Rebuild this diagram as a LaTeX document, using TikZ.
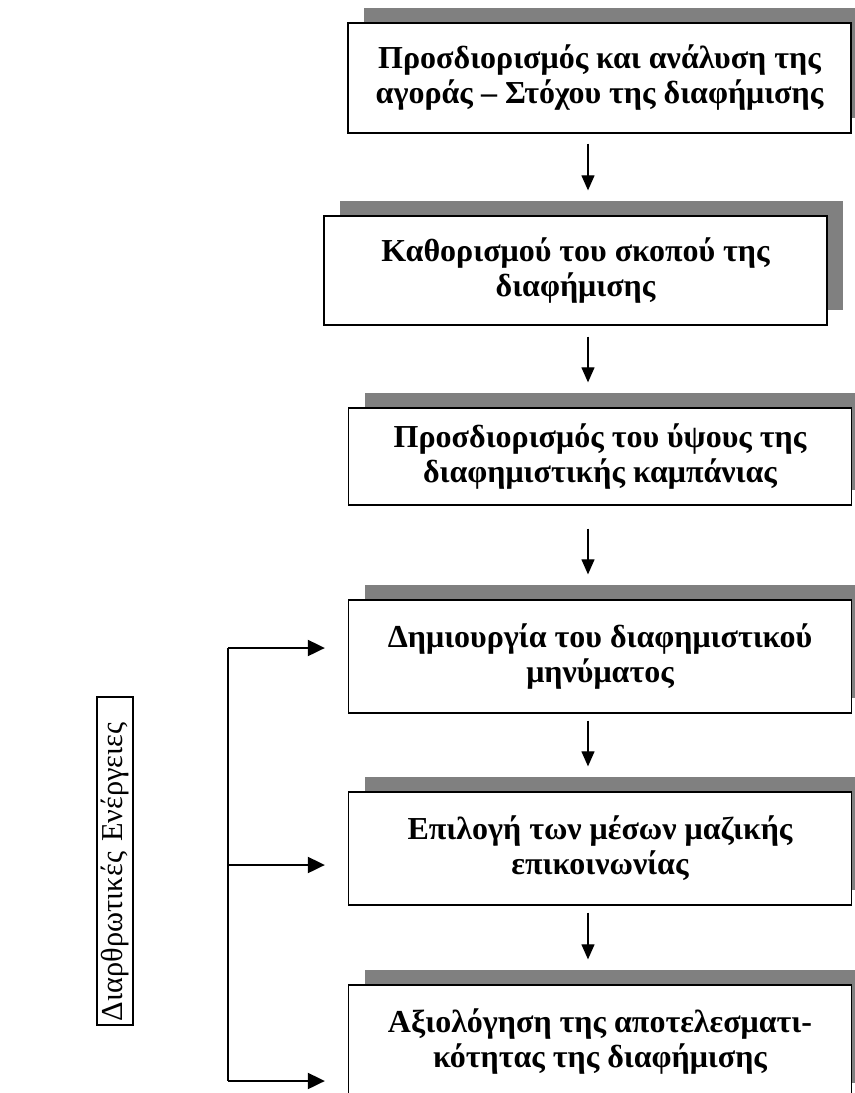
\documentclass[tikz,border=0pt]{standalone}
\usepackage{fontspec}
\setmainfont{Liberation Serif}
\usepackage{tikz}
\usetikzlibrary{arrows.meta,positioning,shadows,calc}

\begin{document}
\begin{tikzpicture}[
  x=0.5pt,y=-0.5pt,
  font=\fontsize{16}{17.5}\selectfont\bfseries,
  stage/.style={draw,line width=0.65pt,fill=white,minimum width=251.5pt,align=center,
    drop shadow={shadow xshift=8pt,shadow yshift=7.5pt,fill=black!50,opacity=1}},
  side/.style={draw,line width=0.65pt,rotate=90,inner sep=2pt,text width=160pt,align=left,
    minimum height=18pt,font=\fontsize{15.2}{17}\selectfont\mdseries},
  arr/.style={-{Triangle[length=7.5pt,width=6.5pt]},line width=0.6pt},
  feed/.style={-{Triangle[length=8.5pt,width=8pt]},line width=1pt}
]
\clip (0,0) rectangle (855,1093);
\node[stage,minimum height=55pt] (b1) at (599.5,78) {Προσδιορισμός και ανάλυση της\\αγοράς – Στόχου της διαφήμισης};
\node[stage,minimum height=54.5pt] (b2) at (575.5,270.5) {Καθορισμού του σκοπού της\\διαφήμισης};
\node[stage,minimum height=48.5pt] (b3) at (600,456.5) {Προσδιορισμός του ύψους της\\διαφημιστικής καμπάνιας};
\node[stage,minimum height=56.5pt] (b4) at (600,656.5) {Δημιουργία του διαφημιστικού\\μηνύματος};
\node[stage,minimum height=56.5pt] (b5) at (600,848.5) {Επιλογή των μέσων μαζικής\\επικοινωνίας};
\node[stage,minimum height=56.5pt] (b6) at (600,1041.5) {Αξιολόγηση της αποτελεσματι-\\κότητας της διαφήμισης};
\node[side] (act) at (115,861) {Διαρθρωτικές Ενέργειες};
% main flow
\coordinate (ax) at (588,0);
\foreach \a/\b/\s in {b1/b2/5,b2/b3/5.5,b3/b4/11.5,b4/b5/3.5,b5/b6/3.5} {
  \draw[arr,shorten <=\s pt,shorten >=12.5pt] (\a.south -| ax) -- (\b.north -| ax);
}
% feedback bracket
\coordinate (j4) at (228,648);
\coordinate (j5) at (228,865);
\coordinate (j6) at (228,1081);
\draw[line width=1pt] (j4) -- (j6);
\foreach \j/\b in {j4/b4,j5/b5,j6/b6} {
  \draw[feed,shorten >=11.5pt] (\j) -- (\j -| \b.west);
}
\end{tikzpicture}
\end{document}
